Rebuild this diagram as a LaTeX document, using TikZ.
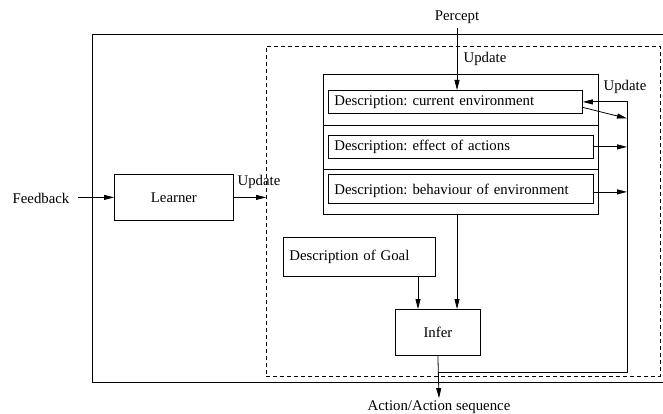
\documentclass[tikz,border=0pt]{standalone}
\usepackage{fontspec}
\setmainfont{Liberation Serif}
\usetikzlibrary{arrows.meta,calc}
\frenchspacing
\begin{document}
\begin{tikzpicture}[x=1pt,y=-1pt,
  line width=0.8pt,
  font=\fontsize{14.8}{17}\selectfont,
  arr/.style={-{Triangle[length=10pt,width=5pt]}},
  plainbox/.style={draw,inner sep=0pt,anchor=north west},
  descbox/.style={draw,anchor=north west,inner xsep=6pt,inner ysep=0pt,align=left},
  lbl/.style={inner sep=2pt}
]
\useasboundingbox (0,0) rectangle (663,414);
% outer agent box (its right side runs off the picture)
\coordinate (otl) at (92,34);
\coordinate (obl) at (92,382);
\draw (663,34) -- (otl) -- (obl) -- (663,382);
% dashed knowledge box
\node[plainbox,dashed,dash pattern=on 4pt off 3pt,minimum width=394pt,minimum height=330pt] (kb) at (266,46) {};
% stack
\node[plainbox,minimum width=275pt,minimum height=140pt] (stack) at (323,74) {};
\coordinate (d1) at (323,125);
\coordinate (d2) at (323,169);
\draw (d1) -- (d1 -| stack.east);
\draw (d2) -- (d2 -| stack.east);
\node[descbox,text width=242pt,minimum height=23pt] (cur) at (328,90) {Description: current environment};
\node[descbox,text width=253pt,minimum height=23pt] (eff) at (328,135) {Description: effect of actions};
\node[descbox,text width=253pt,minimum height=29pt,text depth=-2pt] (beh) at (328,174) {Description: behaviour of environment};
% goal, infer, learner
\node[descbox,text width=140pt,minimum height=39pt] (goal) at (283,237) {Description of Goal};
\node[plainbox,minimum width=85pt,minimum height=46pt] (infer) at (395,309) {Infer};
\node[plainbox,minimum width=119pt,minimum height=46pt] (learner) at (114,174) {Learner};
% texts
\node[lbl] (percept) at (457,17) {Percept};
\node[lbl] (action) at (439,407) {Action/Action sequence};
\node[lbl] (feedback) at (41,198) {Feedback};
\node[lbl] (upd1) at (485,59) {Update};
\node[lbl] (upd2) at (625,87) {Update};
\node[lbl] (upd3) at (259,182) {Update};
% helper coordinates
\coordinate (rail) at (627,0);
\coordinate (spine) at (457,0);
\coordinate (loopb) at (0,372);
\coordinate (goalx) at (418,0);
% connectors
\draw[arr] ([yshift=-2pt]percept.south) -- (percept.south |- cur.north);
\draw[arr] (feedback.east) ++(6pt,0) coordinate (fbs) (fbs |- learner.west) -- (learner.west);
\draw[arr] (learner.east) -- (learner.east -| kb.west);
\draw[arr] (stack.south -| spine) -- (spine |- infer.north);
\draw[arr] (goal.south -| goalx) -- (goalx |- infer.north);
\draw[arr] (infer.south) -- (action.north);
\draw[arr] (infer.south |- loopb) -| (cur.east -| rail) -- (cur.east);
\draw[arr] ([yshift=-5.5pt]cur.east) -- ($(cur.east -| rail)+(0,16.5)$);
\draw[arr] (eff.east) -- (eff.east -| rail);
\draw[arr] ([yshift=-3pt]beh.east) -- ([yshift=-3pt]beh.east -| rail);
\end{tikzpicture}
\end{document}
